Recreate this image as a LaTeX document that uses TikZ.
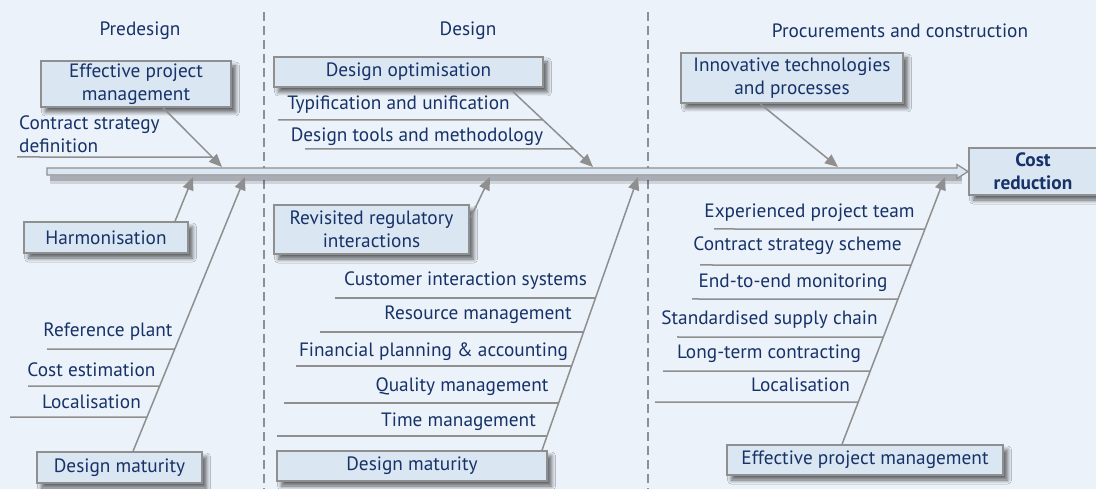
\documentclass[tikz,border=0pt]{standalone}
\usepackage{fontspec}
\setmainfont{PT Sans}
\usetikzlibrary{calc,arrows.meta,shadows.blur}
\definecolor{bgc}{RGB}{236,242,250}
\definecolor{boxc}{RGB}{218,230,242}
\definecolor{lnc}{RGB}{143,143,143}
\definecolor{txc}{RGB}{22,50,104}
\newcommand{\dgfont}{\fontsize{19.3}{23}\selectfont}
\tikzset{
  lbl/.style={text=txc,font=\dgfont,inner sep=0pt},
  catbox/.style={draw=lnc,line width=1.4pt,fill=boxc,text=txc,font=\dgfont,align=center,inner sep=0pt,
     blur shadow={shadow xshift=4.5pt,shadow yshift=-5pt,shadow blur steps=7,shadow blur radius=4pt,shadow opacity=60}},
  uline/.style={draw=lnc,line width=1.5pt},
  feed/.style={draw=lnc,line width=1.5pt,-{Triangle[length=13pt,width=11pt]}},
  phase/.style={draw=lnc,line width=1.3pt,dash pattern=on 9pt off 5pt},
}
\begin{document}
\begin{tikzpicture}[x=1pt,y=-1pt]
\fill[bgc] (0,0) rectangle (1096,489);
\useasboundingbox (0,0) rectangle (1096,489);

% phase separators
\draw[phase] (264,12) -- (264,489);
\draw[phase] (648,12) -- (648,489);

% headers
\node[lbl] (h1) at (140,31) {Predesign};
\node[lbl] (h2) at (468,31) {Design};
\node[lbl] (h3) at (900,31) {Procurements and construction};

% spine
\fill[black,opacity=0.12] (50,175) rectangle (962,184);
\fill[black,opacity=0.18] (50,176) rectangle (962,181);
\draw[lnc,line width=1.3pt,fill=boxc] (47,168) -- (957,168) -- (957,164.5) -- (968,171.5) -- (957,178.5) -- (957,175) -- (47,175) -- cycle;

% effect box
\node[catbox,font=\bfseries\dgfont,minimum width=128pt,minimum height=47pt] (cost) at (1033,171.5) {Cost\\reduction};

% spine targets
\coordinate (t1) at (222,167);
\coordinate (t2) at (193,177);
\coordinate (t3) at (245,177);
\coordinate (t4) at (593,167);
\coordinate (t5) at (490,177);
\coordinate (t6) at (638,177);
\coordinate (t7) at (838,167);
\coordinate (t8) at (945,177);

% category boxes
\node[catbox,minimum width=190pt,minimum height=46pt] (epmA) at (136,84) {Effective project\\management};
\node[catbox,minimum width=164pt,minimum height=31pt] (harm) at (106,237.5) {Harmonisation};
\node[catbox,minimum width=165pt,minimum height=31pt] (dmA) at (119.5,467.5) {Design maturity};
\node[catbox,minimum width=269pt,minimum height=30pt] (dopt) at (408.5,72) {Design optimisation};
\node[catbox,minimum width=195pt,minimum height=49pt] (rri) at (371.5,229.5) {Revisited regulatory\\interactions};
\node[catbox,minimum width=270pt,minimum height=30pt] (dmB) at (412,466) {Design maturity};
\node[catbox,minimum width=222pt,minimum height=50pt] (itp) at (792,78) {Innovative technologies\\and processes};
\node[catbox,minimum width=276pt,minimum height=30pt] (epmB) at (865,460) {Effective project management};

% start points on boxes
\coordinate (s1) at ($(epmA.south)+(27,0)$);
\coordinate (s2) at ($(harm.north)+(69,0)$);
\coordinate (s3) at ($(dmA.north)+(13.5,0)$);
\coordinate (s4) at ($(dopt.south)+(104.5,4)$);
\coordinate (s5) at ($(rri.east)+(1,-12)$);
\coordinate (s6) at ($(dmB.north)+(130,0)$);
\coordinate (s7) at ($(itp.south)+(-32,0)$);
\coordinate (s8) at ($(epmB.north)+(-23,0)$);

% arrows to spine
\draw[feed] (s1) -- (t1);
\draw[feed] (s2) -- (t2);
\draw[feed] (s3) -- (t3);
\draw[feed] (s4) -- (t4);
\draw[feed] (s5) -- (t5);
\draw[feed] (s6) -- (t6);
\draw[feed] (s7) -- (t7);
\draw[feed] (s8) -- (t8);

% sub-cause labels: predesign
\node[lbl,anchor=west,align=left] (c1) at (19,134.5) {Contract strategy\\definition};
\coordinate (u1) at (17,157);
\draw[uline] (u1) -- (intersection of u1--{(300,157)} and s1--t1);

\node[lbl] (c2) at (108,332) {Reference plant};
\node[lbl] (c3) at (91.5,370) {Cost estimation};
\node[lbl] (c4) at (91.5,402) {Localisation};
\coordinate (u2) at (47,349);
\coordinate (u3) at (28,386);
\coordinate (u4) at (10,417);
\draw[uline] (u2) -- (intersection of u2--{(300,349)} and s3--t3);
\draw[uline] (u3) -- (intersection of u3--{(300,386)} and s3--t3);
\draw[uline] (u4) -- (intersection of u4--{(300,417)} and s3--t3);

% design
\node[lbl] (d1) at (398.5,105) {Typification and unification};
\node[lbl] (d2) at (417,137) {Design tools and methodology};
\coordinate (v1) at (278,120);
\coordinate (v2) at (305,149);
\draw[uline] (v1) -- (intersection of v1--{(700,120)} and s4--t4);
\draw[uline] (v2) -- (intersection of v2--{(700,149)} and s4--t4);

\node[lbl] (d3) at (465.5,281) {Customer interaction systems};
\node[lbl] (d4) at (478,315) {Resource management};
\node[lbl] (d5) at (433.5,352) {Financial planning \& accounting};
\node[lbl] (d6) at (462,387) {Quality management};
\node[lbl] (d7) at (458.5,422) {Time management};
\coordinate (v3) at (335,298);
\coordinate (v4) at (320,332);
\coordinate (v5) at (296,366);
\coordinate (v6) at (284,403);
\coordinate (v7) at (277,436);
\draw[uline] (v3) -- (intersection of v3--{(700,298)} and s6--t6);
\draw[uline] (v4) -- (intersection of v4--{(700,332)} and s6--t6);
\draw[uline] (v5) -- (intersection of v5--{(700,366)} and s6--t6);
\draw[uline] (v6) -- (intersection of v6--{(700,403)} and s6--t6);
\draw[uline] (v7) -- (intersection of v7--{(700,436)} and s6--t6);

% procurement
\node[lbl] (p1) at (809.5,213) {Experienced project team};
\node[lbl] (p2) at (797.5,246) {Contract strategy scheme};
\node[lbl] (p3) at (793,283) {End-to-end monitoring};
\node[lbl] (p4) at (769.5,320) {Standardised supply chain};
\node[lbl] (p5) at (769,354) {Long-term contracting};
\node[lbl] (p6) at (800.5,385) {Localisation};
\coordinate (w1) at (714,229);
\coordinate (w2) at (700,265);
\coordinate (w3) at (692,299);
\coordinate (w4) at (677,337);
\coordinate (w5) at (663,371);
\coordinate (w6) at (655,402);
\draw[uline] (w1) -- (intersection of w1--{(1000,229)} and s8--t8);
\draw[uline] (w2) -- (intersection of w2--{(1000,265)} and s8--t8);
\draw[uline] (w3) -- (intersection of w3--{(1000,299)} and s8--t8);
\draw[uline] (w4) -- (intersection of w4--{(1000,337)} and s8--t8);
\draw[uline] (w5) -- (intersection of w5--{(1000,371)} and s8--t8);
\draw[uline] (w6) -- (intersection of w6--{(1000,402)} and s8--t8);
\end{tikzpicture}
\end{document}
